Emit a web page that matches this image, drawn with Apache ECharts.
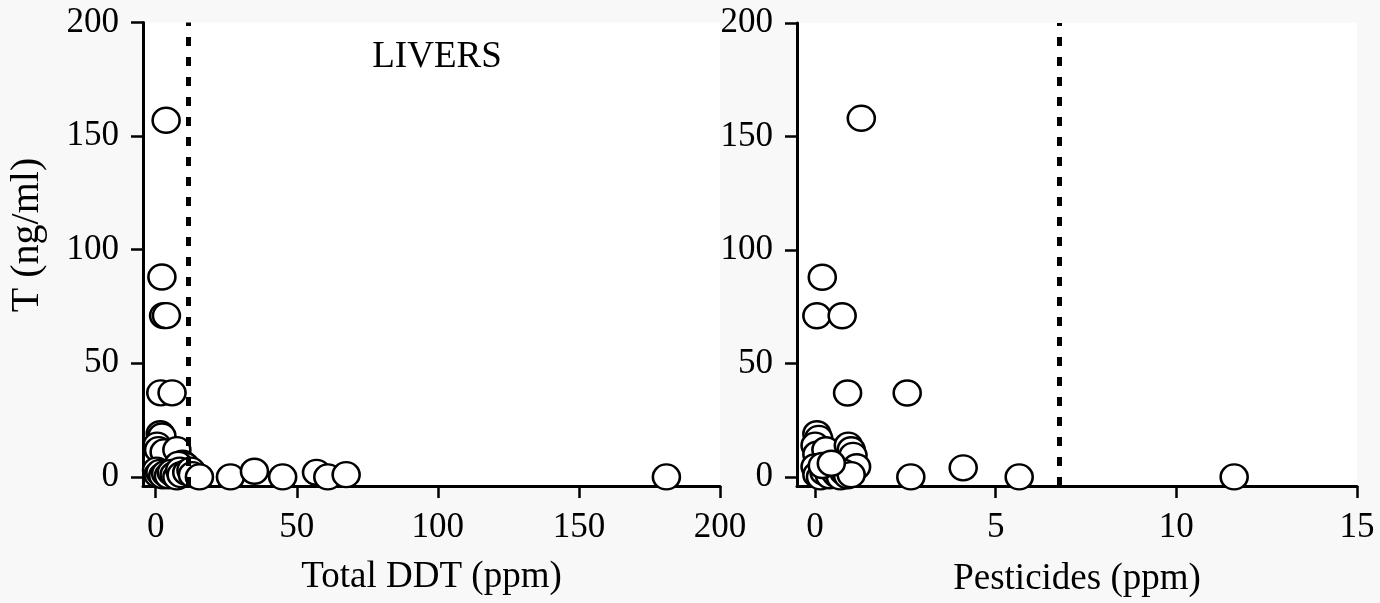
<!DOCTYPE html>
<html>
<head>
<meta charset="utf-8">
<script src="https://cdn.jsdelivr.net/npm/echarts@6/dist/echarts.min.js"></script>
<style>
html,body{margin:0;padding:0;background:#f8f8f8;}
#c{width:1380px;height:603px;}
</style>
</head>
<body>
<div id="c"></div>
<script>
// Left panel: Total DDT (ppm) vs T (ng/ml)
var ddtPoints = [
  [3.7,157],[2.2,88],[2.8,71],[3.8,71],[1.8,37],[5.8,37],
  [1.6,19],[2.2,18],[0.5,14],[1.0,12],[3.0,11],[7.5,12],
  [9.5,6],[10.5,5],[8.0,5.5],[0.3,3],[0.8,1],[1.5,2],[2.5,0.5],
  [3.5,1.5],[4.5,0.5],[5.5,2],[6.5,1],[7.5,0],[8.5,3],[9.0,1],
  [11.0,2],[12.5,3],[13.0,1],[15.5,0],[26.5,0],[35.0,2.5],
  [45.0,0],[57.0,2],[61.0,0],[67.5,1],[181.0,0]
];
// Right panel: Pesticides (ppm) vs T (ng/ml)
var pestPoints = [
  [1.28,158],[0.2,88],[0.05,71],[0.75,71],[0.9,37],[2.55,37],
  [0.05,19],[0.1,17],[0.0,14],[0.05,10],[0.3,12],[0.92,14],
  [1.0,12],[1.05,9.5],[1.15,4.5],[0.0,4.5],[0.05,1],[0.15,0],
  [0.25,2],[0.4,0.5],[0.5,3],[0.6,1],[0.7,0],[0.8,2],[0.9,0.5],
  [1.0,1],[0.2,5],[0.45,6],[2.65,0],[4.1,4],[5.65,0],[11.6,0]
];
var ddtThreshold = 11.5;
var pestThreshold = 6.76;
var yTicks = [0, 50, 100, 150, 200];
var ddtTicks = [0, 50, 100, 150, 200];
var pestTicks = [0, 5, 10, 15];
var panelLabel = 'LIVERS';
var xNameLeft = 'Total DDT (ppm)';
var xNameRight = 'Pesticides (ppm)';
var yName = 'T (ng/ml)';

var FONT = "'Liberation Serif', 'DejaVu Serif', serif";
var chart = echarts.init(document.getElementById('c'), null, {renderer: 'canvas'});

function xAxis(idx, min, max, ticks, name, gap) {
  return {
    type: 'value', gridIndex: idx, min: min, max: max,
    name: name, nameLocation: 'middle', nameGap: gap,
    nameTextStyle: {fontFamily: FONT, fontSize: 37, color: '#000'},
    axisLine: {show: true, onZero: false, lineStyle: {color: '#000', width: 3}},
    axisTick: {show: true, length: 12, inside: false, customValues: ticks, lineStyle: {color: '#000', width: 2.5}},
    axisLabel: {show: true, margin: 24, customValues: ticks, fontFamily: FONT, fontSize: 35, color: '#000'},
    splitLine: {show: false}
  };
}
function yAxis(idx) {
  return {
    type: 'value', gridIndex: idx, min: -4, max: 200,
    axisLine: {show: true, onZero: false, lineStyle: {color: '#000', width: 3}},
    axisTick: {show: true, length: 12, inside: false, customValues: yTicks, lineStyle: {color: '#000', width: 2.5}},
    axisLabel: {show: true, margin: 24, customValues: yTicks, fontFamily: FONT, fontSize: 35, color: '#000'},
    splitLine: {show: false}
  };
}
function markLine(v) {
  return {
    silent: true, symbol: 'none', label: {show: false},
    lineStyle: {color: '#000', width: 5, type: [9, 11]},
    data: [{xAxis: v}]
  };
}
var circle = {
  symbol: 'circle', symbolSize: [27, 25],
  itemStyle: {color: '#fff', borderColor: '#000', borderWidth: 2.5, opacity: 1}
};

chart.setOption({
  backgroundColor: '#f8f8f8',
  animation: false,
  grid: [
    {left: 143, top: 22.5, width: 577, height: 463.5, show: true, backgroundColor: '#fff', borderWidth: 0},
    {left: 797, top: 23, width: 560, height: 467, show: true, backgroundColor: '#fff', borderWidth: 0}
  ],
  xAxis: [
    xAxis(0, -4.5, 200, ddtTicks, xNameLeft, 73),
    xAxis(1, -0.5, 15, pestTicks, xNameRight, 75)
  ],
  yAxis: [yAxis(0), yAxis(1)],
  graphic: [
    {type: 'text', x: 437, y: 57, style: {text: panelLabel, font: "37px 'Liberation Serif'", fill: '#000', align: 'center', verticalAlign: 'middle'}},
    {type: 'text', x: 27, y: 235, rotation: Math.PI / 2,
     style: {text: yName, font: "40px 'Liberation Serif'", fill: '#000', align: 'center', verticalAlign: 'middle'}}
  ],
  series: [
    Object.assign({type: 'scatter', xAxisIndex: 0, yAxisIndex: 0, data: ddtPoints, z: 3, markLine: markLine(ddtThreshold)}, circle),
    Object.assign({type: 'scatter', xAxisIndex: 1, yAxisIndex: 1, data: pestPoints, z: 3, markLine: markLine(pestThreshold)}, circle)
  ]
});
</script>
</body>
</html>
